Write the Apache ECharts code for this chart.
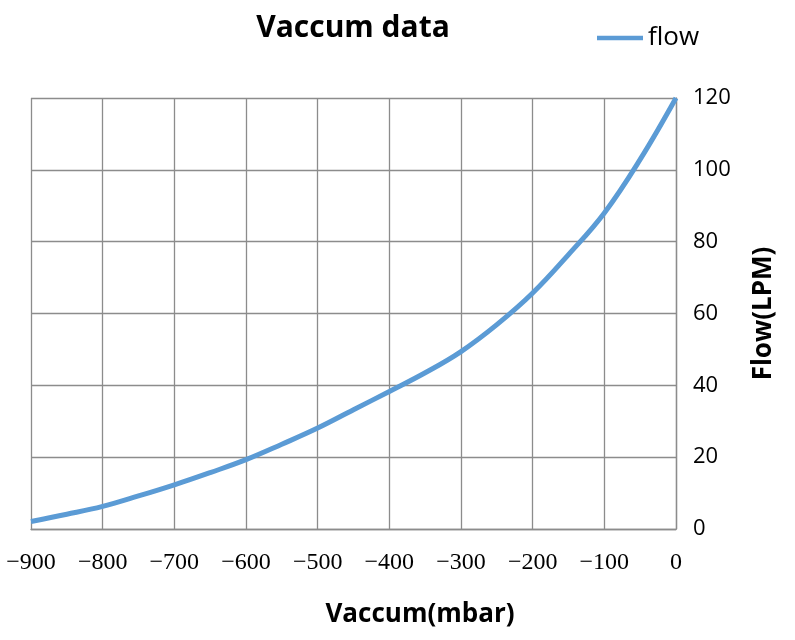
<!DOCTYPE html>
<html>
<head>
<meta charset="utf-8">
<script src="https://cdn.jsdelivr.net/npm/echarts@6/dist/echarts.min.js"></script>
<style>html,body{margin:0;padding:0;background:#fff}#c{width:795px;height:640px}</style>
</head>
<body>
<div id="c"></div>
<script>
const vacuum = [-900, -850, -800, -750, -700, -650, -600, -550, -500, -450, -400, -350, -300, -250, -200, -150, -100, -50, 0];
const flow   = [2.1, 4.1, 6.3, 9.2, 12.3, 15.7, 19.3, 23.6, 28.1, 33.2, 38.3, 43.5, 49.4, 56.9, 65.7, 76.4, 88.0, 102.9, 120];
const seriesName = 'flow';

const chart = echarts.init(document.getElementById('c'));
const gridColor = '#8c8c8c';
chart.setOption({
  animation: false,
  title: {
    text: 'Vaccum data',
    left: 348, top: 8, textAlign: 'center',
    textStyle: { fontFamily: 'Open Sans', fontWeight: 'bold', fontSize: 30, color: '#000' }
  },
  legend: {
    data: [seriesName], left: 592, top: 20,
    icon: 'path://M0,0 L10,0 L10,1 L0,1 Z',
    itemWidth: 46, itemHeight: 5, itemGap: 10,
    textStyle: { fontFamily: 'Open Sans', fontSize: 26, color: '#000' }
  },
  grid: { left: 31, right: 119, top: 98, bottom: 111 },
  xAxis: {
    type: 'value', min: -900, max: 0, interval: 100,
    name: 'Vaccum(mbar)', nameLocation: 'middle', nameGap: 73,
    nameTextStyle: { fontFamily: 'Open Sans', fontWeight: 'bold', fontSize: 26, color: '#000', padding: [0, 0, 0, 133] },
    axisLine: { lineStyle: { color: gridColor, width: 1.3 } },
    axisTick: { show: false },
    splitLine: { show: true, lineStyle: { color: gridColor, width: 1.3 } },
    axisLabel: {
      margin: 22, fontFamily: 'Liberation Serif', fontSize: 24, color: '#000',
      formatter: v => v < 0 ? '\u2212' + Math.abs(v) : String(v)
    }
  },
  yAxis: {
    type: 'value', position: 'right', min: 0, max: 120, interval: 20,
    name: 'Flow(LPM)', nameLocation: 'middle', nameGap: 75, nameRotate: 90,
    nameTextStyle: { fontFamily: 'Open Sans', fontWeight: 'bold', fontSize: 26, color: '#000' },
    axisLine: { show: true, lineStyle: { color: gridColor, width: 1.3 } },
    axisTick: { show: false },
    splitLine: { show: true, lineStyle: { color: gridColor, width: 1.3 } },
    axisLabel: { margin: 17, fontFamily: 'Open Sans', fontSize: 22, color: '#000' }
  },
  series: [{
    name: seriesName, type: 'line', smooth: 0.4, showSymbol: false,
    data: vacuum.map((x, i) => [x, flow[i]]),
    lineStyle: { color: '#5b9bd5', width: 5 },
    itemStyle: { color: '#5b9bd5' }
  }]
});
</script>
</body>
</html>
